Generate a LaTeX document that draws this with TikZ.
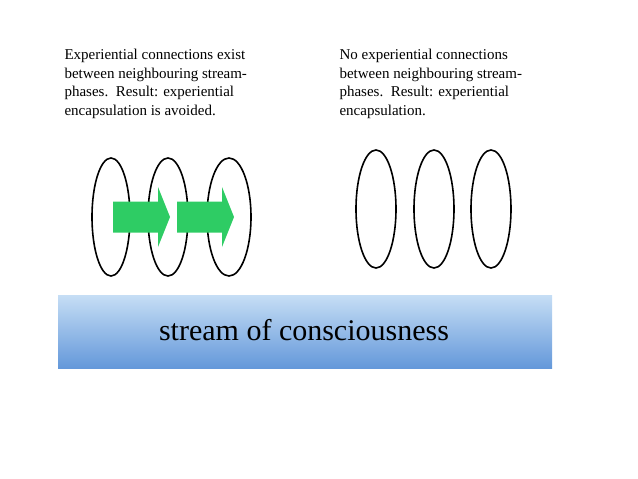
\documentclass[tikz,border=0pt]{standalone}
\usepackage{fontspec}
\setmainfont{Liberation Serif}
\usetikzlibrary{shapes.geometric}
\definecolor{arrowgreen}{RGB}{46,204,100}
\definecolor{bartop}{RGB}{198,222,245}
\definecolor{barbot}{RGB}{100,152,218}
\tikzset{
  phase/.style={draw, line width=1.6pt, ellipse, minimum width=#1pt, minimum height=118pt, inner sep=0pt},
  link/.style={fill=arrowgreen},
  caption/.style={align=left, anchor=north west, font=\fontsize{15}{18.5}\selectfont}
}
\newcommand{\linkarrow}[1]{\fill[link] (#1) ++(-28,-15.5) -- ++(45,0) -- ++(0,-14.5) -- ++(12,30) -- ++(-12,30) -- ++(0,-14.5) -- ++(-45,0) -- cycle;}
\begin{document}
\begin{tikzpicture}[x=1pt,y=-1pt]
  \useasboundingbox (0,0) rectangle (638,479);
  \node (capl) [caption] at (61,46) {Experiential connections exist\\between neighbouring stream-\\phases.\ \ Result: experiential\\encapsulation is avoided.};
  \node (capr) [caption] at (336,46) {No experiential connections\\between neighbouring stream-\\phases.\ \ Result: experiential\\encapsulation.};
  % linked phases
  \node (l1) [phase=38] at (111,217) {};
  \node (l2) [phase=40] at (168,217) {};
  \node (l3) [phase=44] at (229,217) {};
  \coordinate (a1) at (141,217);
  \coordinate (a2) at (205,217);
  \linkarrow{a1}
  \linkarrow{a2}
  % separate phases
  \node (r1) [phase=40] at (376,209) {};
  \node (r2) [phase=40] at (434,209) {};
  \node (r3) [phase=40] at (491,209) {};
  % stream bar
  \shade[top color=bartop, bottom color=barbot] (58,295) rectangle (552,368);
  \node (stream) at (304,330) {\fontsize{30}{36}\selectfont stream of consciousness};
\end{tikzpicture}
\end{document}
